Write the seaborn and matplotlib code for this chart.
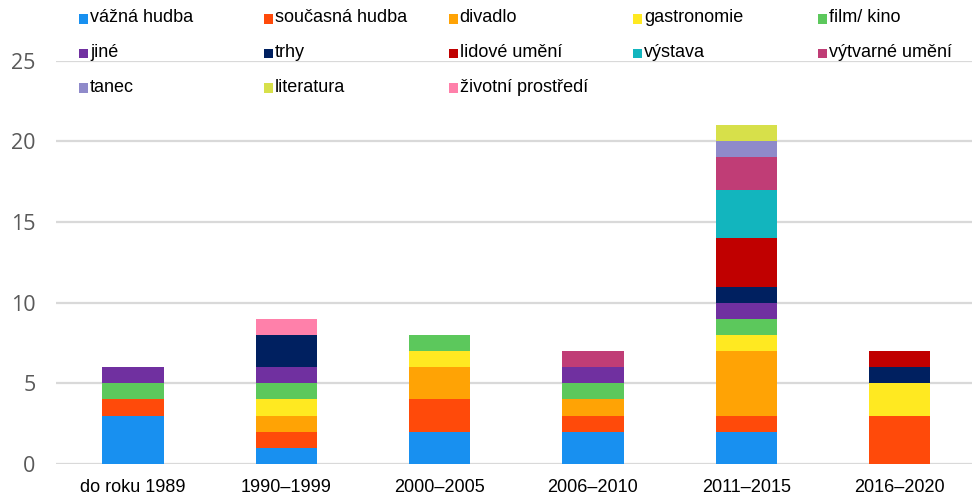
import matplotlib
matplotlib.use('Agg')
import matplotlib.pyplot as plt
from matplotlib.patches import Rectangle
import pandas as pd
import seaborn as sns

# data
periods = ['do roku 1989', '1990–1999', '2000–2005', '2006–2010', '2011–2015', '2016–2020']
genres = ['vážná hudba', 'současná hudba', 'divadlo', 'gastronomie', 'film/ kino',
          'jiné', 'trhy', 'lidové umění', 'výstava', 'výtvarné umění',
          'tanec', 'literatura', 'životní prostředí']
colors = ['#1890F0', '#FF4A0A', '#FFA305', '#FFE921', '#5CC85C',
          '#7030A0', '#002060', '#C00000', '#12B5BE', '#C03D76',
          '#8F8ACA', '#D7E04A', '#FF80AA']

vazna_hudba = [3, 1, 2, 2, 2, 0]
soucasna_hudba = [1, 1, 2, 1, 1, 3]
divadlo = [0, 1, 2, 1, 4, 0]
gastronomie = [0, 1, 1, 0, 1, 2]
film_kino = [1, 1, 1, 1, 1, 0]
jine = [1, 1, 0, 1, 1, 0]
trhy = [0, 2, 0, 0, 1, 1]
lidove_umeni = [0, 0, 0, 0, 3, 1]
vystava = [0, 0, 0, 0, 3, 0]
vytvarne_umeni = [0, 0, 0, 1, 2, 0]
tanec = [0, 0, 0, 0, 1, 0]
literatura = [0, 0, 0, 0, 1, 0]
zivotni_prostredi = [0, 1, 0, 0, 0, 0]

series = [vazna_hudba, soucasna_hudba, divadlo, gastronomie, film_kino, jine, trhy,
          lidove_umeni, vystava, vytvarne_umeni, tanec, literatura, zivotni_prostredi]

rows = []
for g, vals in zip(genres, series):
    for p, v in zip(periods, vals):
        rows.append({'period': p, 'genre': g, 'count': v})
df = pd.DataFrame(rows)

sns.set_style('white')
plt.rcParams['font.family'] = ['Liberation Sans', 'DejaVu Sans']

W, H = 972, 496
fig = plt.figure(figsize=(W / 100, H / 100), dpi=100, facecolor='white')
ax = fig.add_axes([56.3 / W, (H - 464) / H, 920 / W, 403.3 / H])

# seaborn stacks the last hue level at the bottom -> reverse order
sns.histplot(data=df, x='period', weights='count', hue='genre',
             hue_order=genres[::-1], palette=dict(zip(genres, colors)),
             multiple='stack', discrete=True, shrink=0.4, alpha=1,
             linewidth=0, legend=False, ax=ax)

ax.set_xlim(-0.5, 5.5)
ax.set_ylim(0, 25)
ax.set_yticks([0, 5, 10, 15, 20, 25])
ax.set_xticks(range(len(periods)))
ax.set_xticklabels(periods)
ax.set_xlabel('')
ax.set_ylabel('')
ax.grid(True, axis='y', color='#D9D9D9', linewidth=1.6)
ax.set_axisbelow(True)
for s in ax.spines.values():
    s.set_visible(False)
ax.tick_params(axis='x', length=0, pad=11, labelsize=13, labelcolor='black')
ax.tick_params(axis='y', length=0, pad=15, labelsize=15.5, labelcolor='#595959')
for lab in ax.get_yticklabels():
    lab.set_fontfamily('Open Sans')

# legend, 5 columns x 3 rows, row-major
for i, (g, c) in enumerate(zip(genres, colors)):
    col, row = i % 5, i // 5
    x = 79 + col * 184.75
    y = 19 + row * 34.5
    fig.add_artist(Rectangle((x / W, 1 - (y + 4.5) / H), 9 / W, 9 / H,
                             transform=fig.transFigure, facecolor=c, edgecolor='none'))
    fig.text((x + 11) / W, 1 - (y - 1) / H, g, fontsize=13, color='black',
             ha='left', va='center')

fig.savefig('out.png', dpi=100, facecolor='white')
